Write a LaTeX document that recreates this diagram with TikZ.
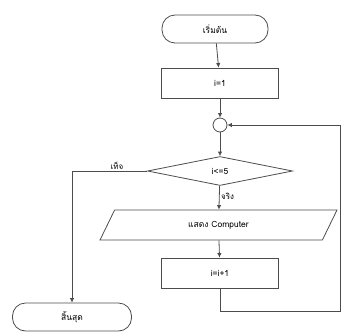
\documentclass[tikz,border=0pt]{standalone}
\usepackage{fontspec}
\newfontfamily\thaifont[Script=Thai]{Loma}
\usetikzlibrary{shapes.geometric,arrows.meta}
\tikzset{
  flow/.style={draw=black!70, line width=0.8pt},
  terminal/.style={flow, rounded corners=13pt, minimum height=28pt, inner sep=1pt},
  process/.style={flow, minimum width=117pt, minimum height=30pt, inner sep=1pt},
  decision/.style={flow, diamond, aspect=5, minimum width=145pt, minimum height=29pt, inner sep=0pt},
  io/.style={flow, trapezium, trapezium left angle=34, trapezium right angle=146,
    trapezium stretches body, minimum width=237pt, minimum height=30pt, inner sep=1pt},
  link/.style={draw=black!70, line width=0.8pt, -{Latex[length=4.5pt,width=4.5pt]}},
  tag/.style={font=\thaifont\fontsize{8}{9}\selectfont, inner sep=1.5pt}
}
\begin{document}
\begin{tikzpicture}[x=1pt, y=-1pt, font=\thaifont\fontsize{8.5}{10}\selectfont]
  \useasboundingbox (0,0) rectangle (342,332);
  % main column
  \node[terminal, minimum width=106pt] (start) at (215,29) {เริ่มต้น};
  \node[process] (init) at (220,83) {i=1};
  \node[flow, circle, minimum size=14pt, inner sep=0pt] (join) at (220,125) {};
  \node[decision] (cond) at (220,171) {i<=5};
  \node[io] (show) at (218.5,225) {แสดง Computer};
  \node[process] (step) at (220,273) {i=i+1};
  \node[terminal, minimum width=119pt] (stop) at (72,317) {สิ้นสุด};
  \coordinate (back) at (340,311);
  % arrows
  \draw[link] (start) -- (init);
  \draw[link] (init) -- (join);
  \draw[link] (join) -- (cond);
  \draw[link] (cond) -- node[tag, right, pos=0.45] {จริง} (show);
  \draw[link] (show) -- (step);
  \draw[link] (step.south) |- (back) |- (join.east);
  \draw[link] (cond.west) -| node[tag, above, pos=0.2] {เท็จ} (stop.north);
\end{tikzpicture}
\end{document}
